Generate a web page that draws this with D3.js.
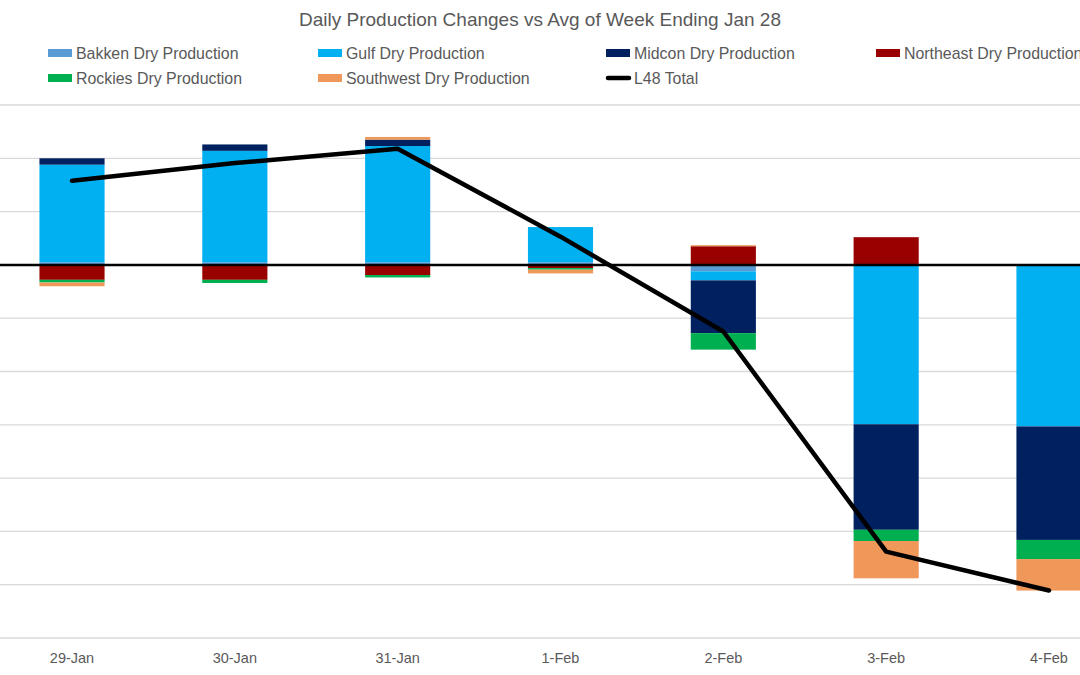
<!DOCTYPE html>
<html><head><meta charset="utf-8">
<script src="https://cdn.jsdelivr.net/npm/d3@7"></script>
<style>body{margin:0;background:#fff}svg{display:block;font-family:"Liberation Sans",Arial,sans-serif}</style>
</head><body><svg id="c" width="1080" height="675"></svg>
<script>
const categories = ["29-Jan","30-Jan","31-Jan","1-Feb","2-Feb","3-Feb","4-Feb"];
const seriesNames = ["Bakken Dry Production","Gulf Dry Production","Midcon Dry Production","Northeast Dry Production","Rockies Dry Production","Southwest Dry Production"];
const bakken    = [0.05, 0.05, 0.05, 0.05, -0.12, 0.00, 0.00];
const gulf      = [1.83, 2.09, 2.18, 0.66, -0.17, -2.99, -3.03];
const midcon    = [0.12, 0.12, 0.12, 0.00, -0.99, -1.98, -2.13];
const northeast = [-0.28, -0.28, -0.19, -0.06, 0.35, 0.52, 0.00];
const rockies   = [-0.05, -0.06, -0.045, -0.03, -0.31, -0.21, -0.36];
const southwest = [-0.07, 0.00, 0.05, -0.07, 0.02, -0.70, -0.59];
const l48Total  = [1.58, 1.91, 2.18, 0.53, -1.25, -5.38, -6.11];
const yTicks = [-7,-6,-5,-4,-3,-2,-1,0,1,2,3];
const colors = ["#5B9BD5","#00B0F0","#002060","#990000","#00B050","#F0985A"];

const seriesValues = [bakken, gulf, midcon, northeast, rockies, southwest];
const rows = categories.map((c,i)=>{const r={cat:c}; seriesNames.forEach((s,j)=>r[s]=seriesValues[j][i]); return r;});

const svg = d3.select("#c");
const x = d3.scaleBand().domain(categories).range([-9.4,1130.4]).paddingInner(0.6).paddingOuter(0.3);
const y = d3.scaleLinear().domain([-7,3]).range([638,105]);

// gridlines
svg.append("g").selectAll("line").data(yTicks.filter(t=>t!==0)).join("line")
  .attr("x1",0).attr("x2",1080).attr("y1",d=>y(d)).attr("y2",d=>y(d))
  .attr("stroke","#d9d9d9").attr("stroke-width",1.3);

// stacked bars
const stack = d3.stack().keys(seriesNames).offset(d3.stackOffsetDiverging);
const stacked = stack(rows);
svg.append("g").selectAll("g").data(stacked).join("g")
  .attr("fill",(d,i)=>colors[i])
  .selectAll("rect").data(d=>d).join("rect")
  .attr("x",d=>x(d.data.cat)).attr("width",x.bandwidth())
  .attr("y",d=>y(Math.max(d[0],d[1]))).attr("height",d=>Math.abs(y(d[0])-y(d[1])));

// zero line
svg.append("line").attr("x1",0).attr("x2",1080).attr("y1",y(0)).attr("y2",y(0))
  .attr("stroke","#000").attr("stroke-width",2.5);

// total line
const line = d3.line().x((d,i)=>x(categories[i])+x.bandwidth()/2).y(d=>y(d));
svg.append("path").datum(l48Total).attr("d",line).attr("fill","none")
  .attr("stroke","#000").attr("stroke-width",4.5).attr("stroke-linejoin","round").attr("stroke-linecap","round");

// x labels
svg.append("g").selectAll("text").data(categories).join("text")
  .attr("x",d=>x(d)+x.bandwidth()/2).attr("y",663).attr("text-anchor","middle")
  .attr("font-size",14.5).attr("fill","#595959").text(d=>d);

// title
svg.append("text").attr("x",540).attr("y",26).attr("text-anchor","middle")
  .attr("font-size",19).attr("fill","#595959").text("Daily Production Changes vs Avg of Week Ending Jan 28");

// legend
const legendItems = [
  {name:seriesNames[0], color:colors[0], type:"rect", x:48, y:53},
  {name:seriesNames[1], color:colors[1], type:"rect", x:318, y:53},
  {name:seriesNames[2], color:colors[2], type:"rect", x:606, y:53},
  {name:seriesNames[3], color:colors[3], type:"rect", x:876, y:53},
  {name:seriesNames[4], color:colors[4], type:"rect", x:48, y:78},
  {name:seriesNames[5], color:colors[5], type:"rect", x:318, y:78},
  {name:"L48 Total", color:"#000", type:"line", x:606, y:78}
];
const lg = svg.append("g").selectAll("g").data(legendItems).join("g");
lg.filter(d=>d.type==="rect").append("rect")
  .attr("x",d=>d.x).attr("y",d=>d.y-4).attr("width",24).attr("height",8).attr("fill",d=>d.color);
lg.filter(d=>d.type==="line").append("line")
  .attr("x1",d=>d.x+2).attr("x2",d=>d.x+23).attr("y1",d=>d.y).attr("y2",d=>d.y)
  .attr("stroke","#000").attr("stroke-width",4.5).attr("stroke-linecap","round");
lg.append("text").attr("x",d=>d.x+28).attr("y",d=>d.y+5.5)
  .attr("font-size",15.9).attr("fill","#595959").text(d=>d.name);
</script></body></html>
